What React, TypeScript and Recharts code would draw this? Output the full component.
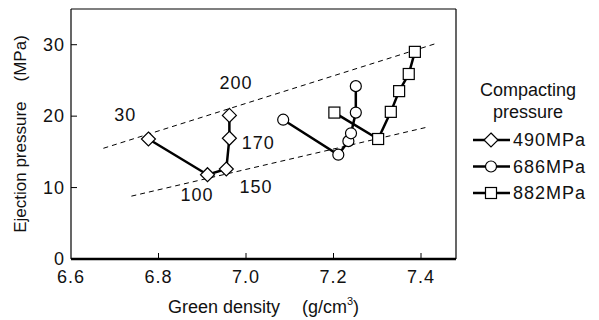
import React from 'react';
import { ScatterChart, Scatter, XAxis, YAxis, ReferenceLine, Legend } from 'recharts';

const FONT = '"Liberation Sans", Arial, sans-serif';

const xTicks = [6.6, 6.8, 7.0, 7.2, 7.4];
const yTicks = [0, 10, 20, 30];
const rightTicks = [1, 2, 3, 4, 5];

// Green density (g/cm3) vs ejection pressure (MPa)
const p490 = [
  { x: 6.777, y: 16.8 },
  { x: 6.912, y: 11.8 },
  { x: 6.955, y: 12.6 },
  { x: 6.962, y: 16.9 },
  { x: 6.962, y: 20.1 },
];
const p686 = [
  { x: 7.085, y: 19.5 },
  { x: 7.211, y: 14.6 },
  { x: 7.234, y: 16.5 },
  { x: 7.24, y: 17.6 },
  { x: 7.251, y: 20.5 },
  { x: 7.251, y: 24.2 },
];
const p882 = [
  { x: 7.202, y: 20.5 },
  { x: 7.302, y: 16.8 },
  { x: 7.331, y: 20.6 },
  { x: 7.35, y: 23.5 },
  { x: 7.372, y: 25.9 },
  { x: 7.386, y: 29.0 },
];

const upperTrend = [{ x: 6.674, y: 15.5 }, { x: 7.436, y: 30.2 }];
const lowerTrend = [{ x: 6.738, y: 8.8 }, { x: 7.41, y: 18.4 }];

const notes = [
  { x: 6.724, y: 20.2, text: '30' },
  { x: 6.977, y: 24.6, text: '200' },
  { x: 7.028, y: 16.2, text: '170' },
  { x: 7.023, y: 10.1, text: '150' },
  { x: 6.888, y: 8.9, text: '100' },
];

const legendItems = [
  { name: '490MPa', kind: 'diamond' },
  { name: '686MPa', kind: 'circle' },
  { name: '882MPa', kind: 'square' },
];

function Marker({ kind, cx, cy }: { kind: string; cx: number; cy: number }) {
  const st = { fill: '#fff', stroke: '#000', strokeWidth: 1.2 };
  if (kind === 'diamond') {
    return <path d={`M${cx},${cy - 7}L${cx + 7},${cy}L${cx},${cy + 7}L${cx - 7},${cy}Z`} {...st} />;
  }
  if (kind === 'circle') return <circle cx={cx} cy={cy} r={5.5} {...st} />;
  return <rect x={cx - 5.5} y={cy - 5.5} width={11} height={11} {...st} />;
}

const numStyle = { fontFamily: FONT, fontSize: 18, letterSpacing: 1, fill: '#111' };

const BottomTick = (props: any) => {
  const { x, y, payload } = props;
  const axisY = y - 11;
  return (
    <g>
      {payload.value !== 6.6 && <line x1={x} x2={x} y1={axisY} y2={axisY - 6} stroke="#000" />}
      <text x={x} y={y} dy="0.71em" textAnchor="middle" style={numStyle}>
        {payload.value.toFixed(1)}
      </text>
    </g>
  );
};

const TopTick = (props: any) => {
  const { x, y } = props;
  return <line x1={x} x2={x} y1={y} y2={y + 6} stroke="#000" />;
};

const LeftTick = (props: any) => {
  const { x, y, payload } = props;
  const axisX = x + 6;
  return (
    <g>
      {payload.value !== 0 && <line x1={axisX} x2={axisX + 6} y1={y} y2={y} stroke="#000" />}
      <text x={x} y={y} textAnchor="end" dominantBaseline="central" style={numStyle}>
        {payload.value}
      </text>
    </g>
  );
};

const RightTick = (props: any) => {
  const { x, y } = props;
  return <line x1={x} x2={x - 6} y1={y} y2={y} stroke="#000" />;
};

const YLabel = (props: any) => {
  const vb = props.viewBox || { x: 0, y: 9, width: 71, height: 250 };
  const x = vb.x + 20;
  const y = vb.y + vb.height / 2;
  return (
    <text
      x={x}
      y={y}
      transform={`rotate(-90, ${x}, ${y})`}
      textAnchor="middle"
      dominantBaseline="central"
      style={{ fontFamily: FONT, fontSize: 17, fill: '#111' }}
    >
      Ejection pressure<tspan dx={20}>(MPa)</tspan>
    </text>
  );
};

const XLabel = (props: any) => {
  const vb = props.viewBox || { x: 71, y: 259, width: 385, height: 61 };
  const x = vb.x + vb.width / 2;
  return (
    <text x={x} y={313} textAnchor="middle" style={{ fontFamily: FONT, fontSize: 18, fill: '#111' }}>
      Green density<tspan dx={22}>(g/cm</tspan>
      <tspan fontSize={11} dy={-8}>3</tspan>
      <tspan dy={8}>)</tspan>
    </text>
  );
};

const LegendBox = () => (
  <svg width={129} height={135} style={{ overflow: 'visible' }}>
    <text x={58} y={15} textAnchor="middle" dominantBaseline="central" style={{ fontFamily: FONT, fontSize: 18, fill: '#111' }}>
      Compacting
    </text>
    <text x={58} y={37} textAnchor="middle" dominantBaseline="central" style={{ fontFamily: FONT, fontSize: 18, fill: '#111' }}>
      pressure
    </text>
    {legendItems.map((it, i) => {
      const y = 65 + i * 26.5;
      return (
        <g key={it.name}>
          <line x1={3} x2={40} y1={y} y2={y} stroke="#000" strokeWidth={2.5} />
          <Marker kind={it.kind} cx={21} cy={y} />
          <text x={43} y={y} dominantBaseline="central" style={numStyle}>
            {it.name}
          </text>
        </g>
      );
    })}
  </svg>
);

const lineStyle = { stroke: '#000', strokeWidth: 2.5 };

export default function App() {
  return (
    <div style={{ position: 'absolute', left: 0, top: 0, background: '#fff' }}>
      <ScatterChart width={599} height={320} margin={{ top: 8, right: 142, bottom: 0, left: 0 }}>
        <XAxis
          dataKey="x"
          type="number"
          domain={[6.6, 7.48]}
          ticks={xTicks}
          height={61}
          tickSize={0}
          tickMargin={11}
          tickLine={false}
          tick={<BottomTick />}
          axisLine={{ stroke: '#000', strokeWidth: 2.5 }}
          label={<XLabel />}
          interval={0}
        />
        <XAxis
          xAxisId="top"
          orientation="top"
          dataKey="x"
          type="number"
          domain={[6.6, 7.48]}
          ticks={[6.8, 7.0, 7.2, 7.4]}
          height={1}
          tickSize={0}
          tickMargin={0}
          tickLine={false}
          tick={<TopTick />}
          axisLine={{ stroke: '#000', strokeWidth: 1.2 }}
          interval={0}
        />
        <YAxis
          dataKey="y"
          type="number"
          domain={[0, 35]}
          ticks={yTicks}
          width={71}
          tickSize={0}
          tickMargin={6}
          tickLine={false}
          tick={<LeftTick />}
          axisLine={{ stroke: '#000', strokeWidth: 1.2 }}
          label={<YLabel />}
          interval={0}
        />
        <YAxis
          yAxisId="r"
          orientation="right"
          dataKey="y"
          type="number"
          domain={[0, 6]}
          ticks={rightTicks}
          width={1}
          tickSize={0}
          tickMargin={0}
          tickLine={false}
          tick={<RightTick />}
          axisLine={{ stroke: '#000', strokeWidth: 1.2 }}
          interval={0}
        />
        <ReferenceLine segment={upperTrend} stroke="#000" strokeWidth={1} strokeDasharray="5 4" />
        <ReferenceLine segment={lowerTrend} stroke="#000" strokeWidth={1} strokeDasharray="5 4" />
        <Scatter
          name="490MPa"
          data={p490}
          line={lineStyle}
          lineType="joint"
          isAnimationActive={false}
          shape={(p: any) => <Marker kind="diamond" cx={p.cx} cy={p.cy} />}
        />
        <Scatter
          name="686MPa"
          data={p686}
          line={lineStyle}
          lineType="joint"
          isAnimationActive={false}
          shape={(p: any) => <Marker kind="circle" cx={p.cx} cy={p.cy} />}
        />
        <Scatter
          name="882MPa"
          data={p882}
          line={lineStyle}
          lineType="joint"
          isAnimationActive={false}
          shape={(p: any) => <Marker kind="square" cx={p.cx} cy={p.cy} />}
        />
        <Scatter
          name="notes"
          data={notes}
          isAnimationActive={false}
          legendType="none"
          shape={(p: any) => (
            <text x={p.cx} y={p.cy} textAnchor="middle" dominantBaseline="central" style={numStyle}>
              {p.payload.text}
            </text>
          )}
        />
        <Scatter
          name="frame"
          data={[]}
          xAxisId="top"
          yAxisId="r"
          isAnimationActive={false}
          legendType="none"
        />
        <Legend
          layout="horizontal"
          align="center"
          verticalAlign="middle"
          content={<LegendBox />}
          wrapperStyle={{ position: 'absolute', left: 470, top: 75, width: 129, height: 135 }}
        />
      </ScatterChart>
    </div>
  );
}
